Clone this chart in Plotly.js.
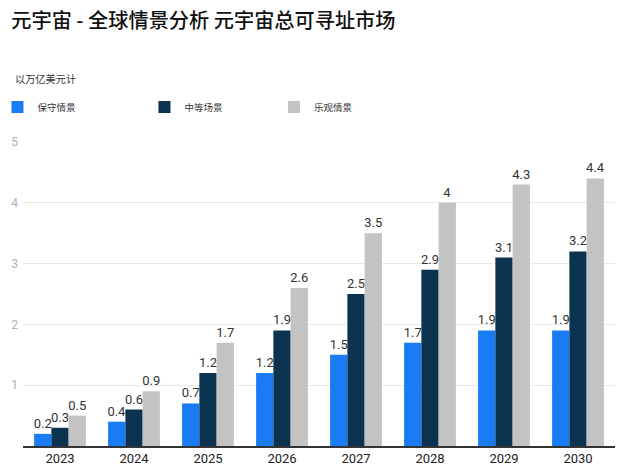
<!DOCTYPE html>
<html><head><meta charset="utf-8">
<script src="https://cdn.plot.ly/plotly-3.0.1.min.js"></script>
<style>html,body{margin:0;padding:0;background:#fff}#c{width:626px;height:466px}</style>
</head><body><div id="c"></div>
<script>
const years = ['2023','2024','2025','2026','2027','2028','2029','2030'];
const conservative = [0.2,0.4,0.7,1.2,1.5,1.7,1.9,1.9];
const moderate = [0.3,0.6,1.2,1.9,2.5,2.9,3.1,3.2];
const optimistic = [0.5,0.9,1.7,2.6,3.5,4,4.3,4.4];
const names = ['保守情景','中等场景','乐观情景'];
const colors = ['#1a7cf4','#0b3350','#c3c3c3'];
const series = [conservative, moderate, optimistic];
const legendIds = ['legend','legend2','legend3'];
const FONT = '"Noto Sans CJK SC", "Noto Sans", sans-serif';
const traces = series.map((v,i)=>({
  type:'bar', x:years, y:v, name:names[i], legend:legendIds[i],
  marker:{color:colors[i]},
  text:v.map(String), textposition:'outside', constraintext:'none', cliponaxis:false,
  textfont:{family:'Roboto, "Noto Sans", sans-serif', size:13, color:'#333'},
  hoverinfo:'none'
}));
const legBase = {orientation:'h', xanchor:'left', y:1.115, yanchor:'middle', itemwidth:30,
  font:{family:FONT, size:9.5, color:'#333'}, bgcolor:'rgba(0,0,0,0)'};
const layout = {
  width:626, height:466,
  margin:{l:23, r:11, t:142, b:20, autoexpand:false},
  paper_bgcolor:'#fff', plot_bgcolor:'#fff',
  font:{family:FONT},
  title:{text:'元宇宙 - 全球情景分析 元宇宙总可寻址市场', x:0.018, xanchor:'left', y:0.955, yanchor:'middle',
    font:{family:FONT, size:20.2, weight:500, color:'#111'}},
  barmode:'group', bargap:0.3, bargroupgap:0,
  showlegend:true,
  legend:Object.assign({}, legBase, {x:-0.0431}),
  legend2:Object.assign({}, legBase, {x:0.2052}),
  legend3:Object.assign({}, legBase, {x:0.4240}),
  xaxis:{type:'category', showgrid:false, showline:true, linecolor:'#333', linewidth:1.5,
    ticks:'', tickfont:{family:'Roboto, sans-serif', size:13, color:'#222'}},
  yaxis:{range:[0,5], showgrid:true, gridcolor:'#e8e8e8', zeroline:false,
    tickfont:{family:'Roboto, sans-serif', size:12, color:'#b0b0b0'}, ticks:'', showline:false,
    tickvals:[1,2,3,4,5], ticktext:['1','2','3','4','5'], ticklabelstandoff:4},
  annotations:[{text:'以万亿美元计', xref:'paper', yref:'paper', x:-0.017, y:1.2105, xanchor:'left', yanchor:'middle',
    showarrow:false, font:{family:FONT, size:10.2, color:'#333'}}]
};
Plotly.newPlot('c', traces, layout, {staticPlot:true, displayModeBar:false});
</script></body></html>
